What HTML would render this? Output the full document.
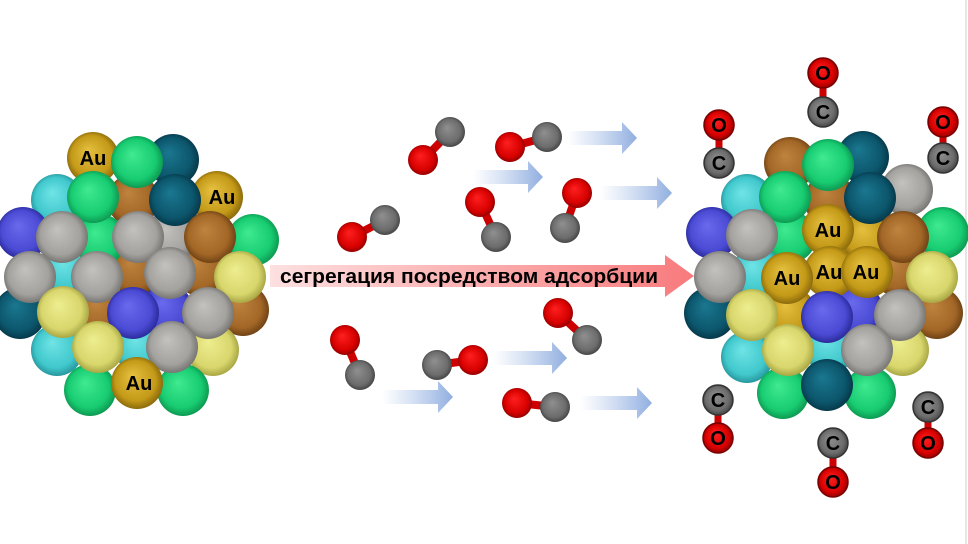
<!DOCTYPE html>
<html><head><meta charset="utf-8"><style>
html,body{margin:0;padding:0;background:#fff;}
svg{display:block;}
text{font-family:"Liberation Sans",sans-serif;font-weight:bold;fill:#000;}
</style></head><body>
<svg width="968" height="544" viewBox="0 0 968 544" xmlns="http://www.w3.org/2000/svg">
<defs>
<radialGradient id="au" cx="50%" cy="50%" r="55%" fx="40%" fy="35%"><stop offset="0" stop-color="#e6c040"/><stop offset="0.7" stop-color="#c49a18"/><stop offset="1" stop-color="#7a5c08"/></radialGradient>
<radialGradient id="dt" cx="50%" cy="50%" r="55%" fx="40%" fy="35%"><stop offset="0" stop-color="#1a7890"/><stop offset="0.7" stop-color="#0c566c"/><stop offset="1" stop-color="#043040"/></radialGradient>
<radialGradient id="gr" cx="50%" cy="50%" r="55%" fx="40%" fy="35%"><stop offset="0" stop-color="#40ea90"/><stop offset="0.7" stop-color="#18cc72"/><stop offset="1" stop-color="#0a8a48"/></radialGradient>
<radialGradient id="cy" cx="50%" cy="50%" r="55%" fx="40%" fy="35%"><stop offset="0" stop-color="#70e4e6"/><stop offset="0.7" stop-color="#40c8cc"/><stop offset="1" stop-color="#208890"/></radialGradient>
<radialGradient id="bl" cx="50%" cy="50%" r="55%" fx="40%" fy="35%"><stop offset="0" stop-color="#6a6aee"/><stop offset="0.7" stop-color="#4a4ad4"/><stop offset="1" stop-color="#22228a"/></radialGradient>
<radialGradient id="gy" cx="50%" cy="50%" r="55%" fx="40%" fy="35%"><stop offset="0" stop-color="#c4c2be"/><stop offset="0.7" stop-color="#a4a29e"/><stop offset="1" stop-color="#6a6866"/></radialGradient>
<radialGradient id="br" cx="50%" cy="50%" r="55%" fx="40%" fy="35%"><stop offset="0" stop-color="#c08440"/><stop offset="0.7" stop-color="#a26626"/><stop offset="1" stop-color="#603810"/></radialGradient>
<radialGradient id="ye" cx="50%" cy="50%" r="55%" fx="40%" fy="35%"><stop offset="0" stop-color="#eeee90"/><stop offset="0.7" stop-color="#d8d66c"/><stop offset="1" stop-color="#9a9838"/></radialGradient>
<radialGradient id="rd" cx="50%" cy="50%" r="55%" fx="40%" fy="35%"><stop offset="0" stop-color="#ff2020"/><stop offset="0.7" stop-color="#d80000"/><stop offset="1" stop-color="#800000"/></radialGradient>
<radialGradient id="mg" cx="50%" cy="50%" r="55%" fx="40%" fy="35%"><stop offset="0" stop-color="#909090"/><stop offset="0.7" stop-color="#6c6c6c"/><stop offset="1" stop-color="#3a3a3a"/></radialGradient>
<linearGradient id="ba" x1="0" x2="1" y1="0" y2="0"><stop offset="0" stop-color="#a8c0e8" stop-opacity="0"/><stop offset="1" stop-color="#90aee0"/></linearGradient>
<linearGradient id="pk" x1="0" x2="1" y1="0" y2="0"><stop offset="0" stop-color="#fde0e0"/><stop offset="1" stop-color="#f87a7c"/></linearGradient>
</defs>

<line x1="966" y1="0" x2="966" y2="544" stroke="#ccc" stroke-width="1"/>

<!-- LEFT CLUSTER -->
<g>
<circle cx="93" cy="158" r="26" fill="url(#au)"/>
<circle cx="173" cy="160" r="26" fill="url(#dt)"/>
<circle cx="217" cy="197" r="26" fill="url(#au)"/>
<circle cx="57" cy="200" r="26" fill="url(#cy)"/>
<circle cx="253" cy="240" r="26" fill="url(#gr)"/>
<circle cx="23" cy="233" r="26" fill="url(#bl)"/>
<circle cx="20" cy="313" r="26" fill="url(#dt)"/>
<circle cx="243" cy="310" r="26" fill="url(#br)"/>
<circle cx="57" cy="350" r="26" fill="url(#cy)"/>
<circle cx="213" cy="350" r="26" fill="url(#ye)"/>
<circle cx="90" cy="390" r="26" fill="url(#gr)"/>
<circle cx="183" cy="390" r="26" fill="url(#gr)"/>
<circle cx="133" cy="200" r="26" fill="url(#br)"/>
<circle cx="135" cy="270" r="26" fill="url(#br)"/>
<circle cx="200" cy="270" r="26" fill="url(#br)"/>
<circle cx="100" cy="310" r="26" fill="url(#br)"/>
<circle cx="170" cy="237" r="26" fill="url(#gy)"/>
<circle cx="67" cy="270" r="26" fill="url(#cy)"/>
<circle cx="140" cy="347" r="26" fill="url(#cy)"/>
<circle cx="167" cy="310" r="26" fill="url(#bl)"/>
<circle cx="100" cy="240" r="26" fill="url(#gr)"/>
<circle cx="137" cy="162" r="26" fill="url(#gr)"/>
<circle cx="93" cy="197" r="26" fill="url(#gr)"/>
<circle cx="175" cy="200" r="26" fill="url(#dt)"/>
<circle cx="62" cy="237" r="26" fill="url(#gy)"/>
<circle cx="138" cy="237" r="26" fill="url(#gy)"/>
<circle cx="210" cy="237" r="26" fill="url(#br)"/>
<circle cx="30" cy="277" r="26" fill="url(#gy)"/>
<circle cx="97" cy="277" r="26" fill="url(#gy)"/>
<circle cx="170" cy="273" r="26" fill="url(#gy)"/>
<circle cx="240" cy="277" r="26" fill="url(#ye)"/>
<circle cx="63" cy="312" r="26" fill="url(#ye)"/>
<circle cx="133" cy="313" r="26" fill="url(#bl)"/>
<circle cx="208" cy="313" r="26" fill="url(#gy)"/>
<circle cx="98" cy="347" r="26" fill="url(#ye)"/>
<circle cx="172" cy="347" r="26" fill="url(#gy)"/>
<circle cx="137" cy="383" r="26" fill="url(#au)"/>
<text x="93" y="165" font-size="20" text-anchor="middle">Au</text>
<text x="222" y="204" font-size="20" text-anchor="middle">Au</text>
<text x="139" y="390" font-size="20" text-anchor="middle">Au</text>
</g>

<!-- RIGHT CLUSTER -->
<g>
<circle cx="790" cy="163" r="26" fill="url(#br)"/>
<circle cx="863" cy="157" r="26" fill="url(#dt)"/>
<circle cx="907" cy="190" r="26" fill="url(#gy)"/>
<circle cx="747" cy="200" r="26" fill="url(#cy)"/>
<circle cx="943" cy="233" r="26" fill="url(#gr)"/>
<circle cx="712" cy="233" r="26" fill="url(#bl)"/>
<circle cx="710" cy="313" r="26" fill="url(#dt)"/>
<circle cx="937" cy="313" r="26" fill="url(#br)"/>
<circle cx="747" cy="357" r="26" fill="url(#cy)"/>
<circle cx="903" cy="350" r="26" fill="url(#ye)"/>
<circle cx="783" cy="393" r="26" fill="url(#gr)"/>
<circle cx="870" cy="393" r="26" fill="url(#gr)"/>
<circle cx="830" cy="200" r="26" fill="url(#br)"/>
<circle cx="867" cy="237" r="26" fill="url(#au)"/>
<circle cx="790" cy="313" r="26" fill="url(#au)"/>
<circle cx="897" cy="270" r="26" fill="url(#br)"/>
<circle cx="790" cy="237" r="26" fill="url(#gr)"/>
<circle cx="757" cy="273" r="26" fill="url(#cy)"/>
<circle cx="830" cy="347" r="26" fill="url(#cy)"/>
<circle cx="857" cy="310" r="26" fill="url(#bl)"/>
<circle cx="828" cy="165" r="26" fill="url(#gr)"/>
<circle cx="785" cy="197" r="26" fill="url(#gr)"/>
<circle cx="870" cy="198" r="26" fill="url(#dt)"/>
<circle cx="752" cy="235" r="26" fill="url(#gy)"/>
<circle cx="903" cy="237" r="26" fill="url(#br)"/>
<circle cx="828" cy="230" r="26" fill="url(#au)"/>
<circle cx="720" cy="277" r="26" fill="url(#gy)"/>
<circle cx="830" cy="272" r="26" fill="url(#au)"/>
<circle cx="867" cy="272" r="26" fill="url(#au)"/>
<circle cx="787" cy="278" r="26" fill="url(#au)"/>
<circle cx="932" cy="277" r="26" fill="url(#ye)"/>
<circle cx="752" cy="315" r="26" fill="url(#ye)"/>
<circle cx="827" cy="317" r="26" fill="url(#bl)"/>
<circle cx="900" cy="315" r="26" fill="url(#gy)"/>
<circle cx="788" cy="350" r="26" fill="url(#ye)"/>
<circle cx="867" cy="350" r="26" fill="url(#gy)"/>
<circle cx="827" cy="385" r="26" fill="url(#dt)"/>
<text x="828" y="237" font-size="20" text-anchor="middle">Au</text>
<text x="787" y="285" font-size="20" text-anchor="middle">Au</text>
<text x="829" y="279" font-size="20" text-anchor="middle">Au</text>
<text x="866" y="279" font-size="20" text-anchor="middle">Au</text>
</g>

<!-- Big pink arrow -->
<polygon points="270,265 665,265 665,255 694,276 665,297 665,287 270,287" fill="url(#pk)"/>
<text x="469" y="283" font-size="20" text-anchor="middle" textLength="378" lengthAdjust="spacingAndGlyphs">сегрегация посредством адсорбции</text>

<!-- blue arrows -->
<g fill="url(#ba)">
<polygon points="473,170 528,170 528,161 543,177 528,193 528,184 473,184"/>
<polygon points="567,131 622,131 622,122 637,138 622,154 622,145 567,145"/>
<polygon points="600,186 657,186 657,177 672,193 657,209 657,200 600,200"/>
<polygon points="382,390 438,390 438,381 453,397 438,413 438,404 382,404"/>
<polygon points="493,351 552,351 552,342 567,358 552,374 552,365 493,365"/>
<polygon points="580,396 637,396 637,387 652,403 637,419 637,410 580,410"/>
</g>

<!-- free CO molecules -->
<g>
<line x1="450" y1="132" x2="423" y2="160" stroke="#c00" stroke-width="8"/>
<circle cx="450" cy="132" r="15" fill="url(#mg)"/><circle cx="423" cy="160" r="15" fill="url(#rd)"/>
<line x1="510" y1="147" x2="547" y2="137" stroke="#c00" stroke-width="8"/>
<circle cx="547" cy="137" r="15" fill="url(#mg)"/><circle cx="510" cy="147" r="15" fill="url(#rd)"/>
<line x1="480" y1="202" x2="496" y2="237" stroke="#c00" stroke-width="8"/>
<circle cx="496" cy="237" r="15" fill="url(#mg)"/><circle cx="480" cy="202" r="15" fill="url(#rd)"/>
<line x1="577" y1="193" x2="565" y2="228" stroke="#c00" stroke-width="8"/>
<circle cx="565" cy="228" r="15" fill="url(#mg)"/><circle cx="577" cy="193" r="15" fill="url(#rd)"/>
<line x1="352" y1="237" x2="385" y2="220" stroke="#c00" stroke-width="8"/>
<circle cx="385" cy="220" r="15" fill="url(#mg)"/><circle cx="352" cy="237" r="15" fill="url(#rd)"/>
<line x1="345" y1="340" x2="360" y2="375" stroke="#c00" stroke-width="8"/>
<circle cx="360" cy="375" r="15" fill="url(#mg)"/><circle cx="345" cy="340" r="15" fill="url(#rd)"/>
<line x1="437" y1="365" x2="473" y2="360" stroke="#c00" stroke-width="8"/>
<circle cx="437" cy="365" r="15" fill="url(#mg)"/><circle cx="473" cy="360" r="15" fill="url(#rd)"/>
<line x1="558" y1="313" x2="587" y2="340" stroke="#c00" stroke-width="8"/>
<circle cx="587" cy="340" r="15" fill="url(#mg)"/><circle cx="558" cy="313" r="15" fill="url(#rd)"/>
<line x1="517" y1="403" x2="555" y2="407" stroke="#c00" stroke-width="8"/>
<circle cx="555" cy="407" r="15" fill="url(#mg)"/><circle cx="517" cy="403" r="15" fill="url(#rd)"/>
</g>

<!-- adsorbed CO (labelled) -->
<g font-size="20" text-anchor="middle">
<g><line x1="823" y1="73" x2="823" y2="112" stroke="#c00" stroke-width="7"/>
<circle cx="823" cy="73" r="15" fill="url(#rd)" stroke="#700" stroke-width="1.5"/><circle cx="823" cy="112" r="15" fill="url(#mg)" stroke="#333" stroke-width="1.5"/>
<text x="823" y="80">O</text><text x="823" y="119">C</text></g>
<g><line x1="719" y1="125" x2="719" y2="163" stroke="#c00" stroke-width="7"/>
<circle cx="719" cy="125" r="15" fill="url(#rd)" stroke="#700" stroke-width="1.5"/><circle cx="719" cy="163" r="15" fill="url(#mg)" stroke="#333" stroke-width="1.5"/>
<text x="719" y="132">O</text><text x="719" y="170">C</text></g>
<g><line x1="943" y1="122" x2="943" y2="158" stroke="#c00" stroke-width="7"/>
<circle cx="943" cy="122" r="15" fill="url(#rd)" stroke="#700" stroke-width="1.5"/><circle cx="943" cy="158" r="15" fill="url(#mg)" stroke="#333" stroke-width="1.5"/>
<text x="943" y="129">O</text><text x="943" y="165">C</text></g>
<g><line x1="718" y1="400" x2="718" y2="438" stroke="#c00" stroke-width="7"/>
<circle cx="718" cy="400" r="15" fill="url(#mg)" stroke="#333" stroke-width="1.5"/><circle cx="718" cy="438" r="15" fill="url(#rd)" stroke="#700" stroke-width="1.5"/>
<text x="718" y="407">C</text><text x="718" y="445">O</text></g>
<g><line x1="833" y1="443" x2="833" y2="482" stroke="#c00" stroke-width="7"/>
<circle cx="833" cy="443" r="15" fill="url(#mg)" stroke="#333" stroke-width="1.5"/><circle cx="833" cy="482" r="15" fill="url(#rd)" stroke="#700" stroke-width="1.5"/>
<text x="833" y="450">C</text><text x="833" y="489">O</text></g>
<g><line x1="928" y1="407" x2="928" y2="443" stroke="#c00" stroke-width="7"/>
<circle cx="928" cy="407" r="15" fill="url(#mg)" stroke="#333" stroke-width="1.5"/><circle cx="928" cy="443" r="15" fill="url(#rd)" stroke="#700" stroke-width="1.5"/>
<text x="928" y="414">C</text><text x="928" y="450">O</text></g>
</g>
</svg>
</body></html>
